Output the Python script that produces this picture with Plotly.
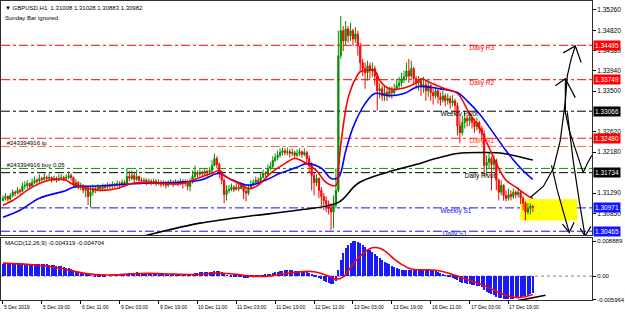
import plotly.graph_objects as go

FONT = "Liberation Sans, Arial, sans-serif"

# ---------------- price data (H1 bars, index 0 = 5 Dec 2019 03:00) ----------------
first_open = 1.3113
close = [
1.3118,1.3122,1.3116,1.3124,1.3131,1.3129,1.3135,1.3133,1.3144,1.3146,
1.3150,1.3144,1.3152,1.3157,1.3155,1.3161,1.3159,1.3163,1.3161,1.3163,
1.3159,1.3161,1.3157,1.3161,1.3163,1.3161,1.3163,1.3167,1.3163,1.3148,
1.3152,1.3144,1.3146,1.3135,1.3139,1.3122,1.3131,1.3139,1.3137,1.3142,
1.3139,1.3144,1.3142,1.3146,1.3144,1.3148,1.3146,1.3150,1.3148,1.3152,
1.3150,1.3165,1.3161,1.3167,1.3159,1.3165,1.3157,1.3155,1.3157,1.3152,
1.3155,1.3152,1.3155,1.3150,1.3152,1.3148,1.3150,1.3146,1.3150,1.3152,
1.3148,1.3152,1.3150,1.3155,1.3150,1.3152,1.3144,1.3152,1.3165,1.3174,
1.3170,1.3174,1.3172,1.3176,1.3174,1.3178,1.3189,1.3204,1.3191,1.3174,
1.3157,1.3126,1.3135,1.3137,1.3142,1.3137,1.3142,1.3139,1.3146,1.3133,
1.3129,1.3139,1.3148,1.3152,1.3157,1.3155,1.3163,1.3172,1.3170,1.3183,
1.3187,1.3200,1.3206,1.3211,1.3217,1.3221,1.3217,1.3219,1.3215,1.3217,
1.3211,1.3215,1.3219,1.3213,1.3217,1.3204,1.3189,1.3167,1.3152,1.3161,
1.3135,1.3122,1.3113,1.3105,1.3096,1.3088,1.3103,1.3135,1.3427,1.3481,
1.3459,1.3485,1.3470,1.3481,1.3463,1.3474,1.3448,1.3412,1.3399,1.3390,
1.3405,1.3394,1.3399,1.3383,1.3351,1.3355,1.3340,1.3347,1.3340,1.3351,
1.3347,1.3355,1.3362,1.3368,1.3377,1.3381,1.3394,1.3383,1.3399,1.3377,
1.3368,1.3373,1.3360,1.3364,1.3351,1.3362,1.3347,1.3340,1.3351,1.3338,
1.3331,1.3340,1.3329,1.3334,1.3325,1.3329,1.3319,1.3275,1.3260,1.3282,
1.3291,1.3286,1.3293,1.3282,1.3273,1.3282,1.3269,1.3258,1.3189,1.3196,
1.3204,1.3191,1.3200,1.3157,1.3131,1.3146,1.3124,1.3118,1.3126,1.3122,
1.3131,1.3126,1.3131,1.3118,1.3107,1.3088,1.3096,1.31008,1.30982]
high = [
1.3124,1.3129,1.3124,1.3129,1.3137,1.3135,1.3142,1.3139,1.3152,1.3155,
1.3157,1.3152,1.3161,1.3165,1.3161,1.3170,1.3165,1.3172,1.3167,1.3172,
1.3165,1.3167,1.3165,1.3170,1.3170,1.3167,1.3170,1.3176,1.3172,1.3165,
1.3159,1.3155,1.3152,1.3148,1.3146,1.3144,1.3146,1.3148,1.3146,1.3148,
1.3146,1.3150,1.3148,1.3152,1.3150,1.3155,1.3152,1.3157,1.3155,1.3159,
1.3157,1.3183,1.3178,1.3178,1.3174,1.3180,1.3167,1.3163,1.3163,1.3161,
1.3161,1.3159,1.3161,1.3159,1.3159,1.3157,1.3157,1.3155,1.3157,1.3159,
1.3157,1.3159,1.3157,1.3161,1.3159,1.3159,1.3157,1.3161,1.3178,1.3189,
1.3178,1.3180,1.3178,1.3183,1.3180,1.3185,1.3200,1.3215,1.3209,1.3196,
1.3178,1.3161,1.3146,1.3146,1.3150,1.3146,1.3150,1.3148,1.3152,1.3148,
1.3144,1.3148,1.3157,1.3159,1.3165,1.3163,1.3172,1.3180,1.3176,1.3191,
1.3196,1.3209,1.3215,1.3221,1.3226,1.3228,1.3226,1.3228,1.3224,1.3226,
1.3221,1.3224,1.3226,1.3221,1.3226,1.3221,1.3211,1.3196,1.3174,1.3170,
1.3163,1.3142,1.3129,1.3122,1.3113,1.3107,1.3124,1.3183,1.3481,1.3513,
1.3491,1.3502,1.3491,1.3498,1.3485,1.3489,1.3481,1.3455,1.3420,1.3412,
1.3416,1.3412,1.3412,1.3405,1.3390,1.3368,1.3362,1.3360,1.3355,1.3360,
1.3360,1.3366,1.3377,1.3381,1.3390,1.3394,1.3412,1.3420,1.3416,1.3403,
1.3383,1.3383,1.3377,1.3381,1.3373,1.3373,1.3366,1.3355,1.3360,1.3355,
1.3347,1.3351,1.3345,1.3345,1.3340,1.3342,1.3334,1.3325,1.3291,1.3297,
1.3304,1.3299,1.3301,1.3297,1.3291,1.3293,1.3286,1.3275,1.3265,1.3211,
1.3217,1.3209,1.3211,1.3204,1.3161,1.3157,1.3148,1.3135,1.3139,1.3135,
1.3139,1.3135,1.3142,1.3135,1.3122,1.3111,1.3107,1.3107,1.31028]
low = [
1.3111,1.3113,1.3111,1.3113,1.3120,1.3122,1.3126,1.3126,1.3131,1.3137,
1.3139,1.3137,1.3142,1.3148,1.3146,1.3150,1.3152,1.3155,1.3155,1.3155,
1.3152,1.3155,1.3152,1.3155,1.3157,1.3155,1.3157,1.3159,1.3157,1.3142,
1.3142,1.3137,1.3135,1.3129,1.3120,1.3103,1.3098,1.3124,1.3129,1.3133,
1.3133,1.3135,1.3135,1.3137,1.3137,1.3139,1.3139,1.3142,1.3139,1.3144,
1.3144,1.3148,1.3155,1.3157,1.3152,1.3155,1.3148,1.3148,1.3150,1.3146,
1.3148,1.3146,1.3148,1.3144,1.3146,1.3142,1.3144,1.3139,1.3142,1.3146,
1.3142,1.3146,1.3144,1.3146,1.3139,1.3144,1.3135,1.3133,1.3150,1.3161,
1.3163,1.3165,1.3165,1.3167,1.3165,1.3170,1.3174,1.3187,1.3183,1.3161,
1.3148,1.3107,1.3113,1.3129,1.3133,1.3131,1.3135,1.3133,1.3137,1.3116,
1.3111,1.3124,1.3137,1.3144,1.3150,1.3148,1.3152,1.3161,1.3163,1.3167,
1.3178,1.3183,1.3196,1.3200,1.3206,1.3211,1.3211,1.3211,1.3206,1.3209,
1.3204,1.3206,1.3209,1.3206,1.3209,1.3193,1.3174,1.3135,1.3124,1.3144,
1.3118,1.3101,1.3092,1.3088,1.3083,1.3049,1.3053,1.3096,1.3131,1.3420,
1.3437,1.3448,1.3455,1.3459,1.3448,1.3455,1.3427,1.3394,1.3383,1.3355,
1.3373,1.3377,1.3381,1.3362,1.3308,1.3334,1.3329,1.3329,1.3329,1.3336,
1.3334,1.3340,1.3351,1.3355,1.3360,1.3368,1.3373,1.3368,1.3377,1.3364,
1.3355,1.3351,1.3340,1.3347,1.3329,1.3338,1.3329,1.3321,1.3334,1.3323,
1.3319,1.3325,1.3317,1.3321,1.3312,1.3317,1.3304,1.3254,1.3237,1.3254,
1.3269,1.3273,1.3275,1.3269,1.3260,1.3265,1.3258,1.3243,1.3163,1.3167,
1.3183,1.3135,1.3178,1.3135,1.3113,1.3124,1.3113,1.3111,1.3113,1.3113,
1.3116,1.3118,1.3120,1.3105,1.3092,1.3070,1.3083,1.3083,1.30883]

bars = list(range(len(close)))
opens = [first_open] + close[:-1]
hi = [max(h, o, c) for h, o, c in zip(high, opens, close)]
lo = [min(l, o, c) for l, o, c in zip(low, opens, close)]

# ---------------- moving averages (sampled points) ----------------
red_ma_bar = [0,4,12,19,26,28,33,40,47,53,60,74,80,86,89,91,97,101,105,110,116,120,125,129,133,137,
              138,139,140,141,142,143,144,145,146,147,150,153,155,159,165,170,172,176,181,187,192,196,
              200,203,207,211,217,218]
red_ma_val = [1.3103,1.3113,1.3142,1.3157,1.3157,1.3150,1.3142,1.3135,1.3139,1.3150,1.3152,1.3150,1.3161,
              1.3172,1.3178,1.3167,1.3150,1.3139,1.3146,1.3172,1.3193,1.3204,1.3193,1.3178,1.3152,1.3146,
              1.3185,1.3235,1.3275,1.3310,1.3335,1.3352,1.3366,1.3376,1.3386,1.3392,1.3396,1.3394,1.3373,
              1.3355,1.3357,1.3368,1.3377,1.3368,1.3357,1.3345,1.3301,1.3271,1.3228,1.3193,1.3157,1.3142,
              1.3120,1.3118]
blue_ma_bar = [0,7,15,26,29,37,56,81,89,93,101,108,114,121,125,131,135,138,141,144,149,153,159,165,171,180,
               187,191,196,202,207,212,217,218]
blue_ma_val = [1.3077,1.3092,1.3118,1.3135,1.3142,1.3144,1.3150,1.3157,1.3172,1.3161,1.3146,1.3157,1.3172,
               1.3185,1.3193,1.3183,1.3161,1.3163,1.3220,1.3271,1.3323,1.3345,1.3340,1.3345,1.3360,1.3355,
               1.3347,1.3329,1.3301,1.3258,1.3221,1.3189,1.3163,1.3159]
black_ma_bar = [56,68,81,101,121,138,146,158,170,178,187,198,206,217,218]
black_ma_val = [1.3033,1.3049,1.3064,1.3079,1.3092,1.3109,1.3150,1.3174,1.3191,1.3204,1.3215,1.3217,1.3215,
                1.3202,1.3201]

# ---------------- MACD(12,26,9) ----------------
macd_main = [
0.0031,0.0031,0.0030,0.0031,0.0031,0.0030,0.0031,0.0030,0.0031,0.0031,0.0031,0.0030,0.0031,0.0031,0.0030,
0.0030,0.0030,0.0029,0.0029,0.0028,0.0028,
0.0027,0.0026,0.0025,0.0024,0.0022,0.0021,0.0019,0.0017,0.0015,0.0013,0.0011,0.0009,0.0007,0.0005,0.0003,
0.0001,0.0000,-0.0001,
-0.0002,-0.0003,-0.0002,-0.0001,0.0000,0.0001,0.0001,0.0002,0.0002,0.0003,0.0003,0.0004,
0.0006,0.0007,0.0008,0.0008,0.0009,0.0008,0.0008,0.0007,0.0007,0.0006,0.0006,0.0005,0.0005,0.0004,
0.0004,0.0003,0.0003,0.0003,0.0003,0.0002,0.0003,0.0003,0.0003,0.0003,0.0002,0.0002,0.0003,0.0005,0.0007,0.0008,
0.0009,0.0009,0.0010,0.0010,0.0010,0.0011,0.0013,0.0013,0.0012,0.0009,0.0005,0.0002,0.0000,-0.0002,-0.0003,
-0.0004,-0.0004,-0.0004,-0.0005,-0.0006,-0.0005,-0.0004,-0.0003,-0.0002,-0.0001,0.0001,0.0002,0.0003,0.0005,0.0006,
0.0008,0.0009,0.0011,0.0012,0.0013,0.0014,0.0014,0.0014,0.0014,0.0013,0.0013,0.0013,0.0012,0.0012,0.0010,0.0007,
0.0003,-0.0001,-0.0003,-0.0006,-0.0009,-0.0012,-0.0015,-0.0018,-0.0021,-0.0020,-0.0012,
0.0015,0.0040,0.0058,0.0070,0.0078,0.0084,0.0088,0.0089,0.0087,0.0083,0.0078,0.0073,0.0069,0.0065,0.0060,
0.0055,0.0050,0.0045,0.0040,0.0036,0.0032,0.0029,0.0026,
0.0023,0.0020,0.0018,0.0016,0.0015,0.0014,0.0014,0.0015,0.0016,0.0017,0.0018,0.0018,0.0018,0.0018,0.0017,
0.0016,0.0014,0.0012,0.0010,0.0008,0.0005,0.0002,
-0.0001,-0.0003,-0.0005,-0.0007,-0.0011,-0.0015,-0.0017,-0.0019,-0.0020,-0.0021,-0.0022,-0.0023,-0.0025,
-0.0027,-0.0029,-0.0035,-0.0040,-0.0044,-0.0047,-0.0050,-0.0053,-0.0056,-0.0057,-0.0059,-0.0060,-0.0060,
-0.0059,-0.0058,-0.0056,-0.0055,-0.0053,-0.0052,-0.0051,-0.0049,-0.0046,-0.004319]
signal_bar = [0,12,20,26,31,36,40,46,53,60,70,80,88,95,102,108,115,122,128,134,137,140,143,146,149,152,155,158,
              161,164,167,170,174,178,182,186,190,195,200,204,208,212,215,218]
signal_val = [0.0033,0.0029,0.0024,0.0017,0.0010,0.0005,0.0003,0.0003,0.0006,0.0007,0.0005,0.0004,0.0008,0.0005,
              0.0000,-0.0001,0.0005,0.0011,0.0011,0.0000,-0.0008,-0.0002,0.0022,0.0045,0.0062,0.0072,0.0071,
              0.0060,0.0043,0.0030,0.0020,0.0016,0.0016,0.0015,0.0010,0.0002,-0.0007,-0.0017,-0.0030,-0.0042,
              -0.0051,-0.0055,-0.0052,-0.004704]

# ---------------- horizontal levels ----------------
level_price = [1.34495, 1.33749, 1.33066, 1.32480, 1.32300, 1.31826, 1.31734, 1.30971, 1.30465]
level_color = ["#ff0000", "#ff0000", "#000000", "#ff1a1a", "#ff6a33", "#009a00", "#000000", "#1414ff", "#1414ff"]
tag_price = [1.34495, 1.33749, 1.33066, 1.32480, 1.31734, 1.30971, 1.30465]
tag_color = ["#ff0000", "#ff0000", "#000000", "#ff0000", "#000000", "#1414ff", "#1414ff"]

label_text = ["Daily R3", "Daily R2", "Weekly Pivot", "Daily R1", "Daily Pivot", "Weekly S1", "Daily S1"]
label_bar = [192, 192, 180, 192, 190, 180, 181]
label_price = [1.34495, 1.33749, 1.33066, 1.32480, 1.31734, 1.30971, 1.30465]
label_color = ["#ff0000", "#ff0000", "#000000", "#ff3c1e", "#000000", "#1414ff", "#1414ff"]

order_text = ["#243394916 tp", "#243394916 buy 0.05"]
order_price = [1.32300, 1.31826]

price_ticks = [1.35260, 1.34820, 1.34380, 1.33940, 1.33500, 1.32620, 1.32180, 1.31290, 1.30850]
macd_ticks = [0.008889, 0.0, -0.005964]
macd_ticktext = ["0.008889", "0.00", "-0.005964"]

time_tick_bar = [0, 16, 32, 48, 64, 80, 96, 112, 128, 144, 160, 176, 192, 208]
time_tick_text = ["5 Dec 2019", "5 Dec 19:00", "6 Dec 11:00", "9 Dec 03:00", "9 Dec 19:00", "10 Dec 11:00",
                  "11 Dec 03:00", "11 Dec 19:00", "12 Dec 11:00", "13 Dec 03:00", "13 Dec 19:00",
                  "16 Dec 11:00", "17 Dec 03:00", "17 Dec 19:00"]

# zone and hand-drawn arrows (bar, price)
zone_bar = [213, 236.3]
zone_price = [1.3070, 1.3116]
arrow_bar = [217.1, 222.4, 226.5, 229.3, 231.4, 232.2, 233.8, 235.5, None,
             230.5, 235.5, 237.9, None,
             227.3, 231.4, 235.5, None,
             231.4, 231.4, 233.0, 235.8, 238.7, 240.7, 242.3, None,
             225.7, 228.1, 230.6, 233.0, None,
             230.2, 233.0, 235.0, None,
             232.2, 234.6, 237.1, 239.5, None,
             237.5, 239.5, 241.9]
arrow_price = [1.3120, 1.3144, 1.3183, 1.3243, 1.3329, 1.3383, 1.3420, 1.3448, None,
               1.3433, 1.3448, 1.3412, None,
               1.3362, 1.3377, 1.3336, None,
               1.3377, 1.3304, 1.3265, 1.3221, 1.3174, 1.3196, 1.3211, None,
               1.3189, 1.3135, 1.3088, 1.3044, None,
               1.3062, 1.3044, 1.3066, None,
               1.3304, 1.3200, 1.3113, 1.3036, None,
               1.3053, 1.3036, 1.3057]
div_bar = [208.9, 223.2]
div_val = [-0.0066, -0.0049]

# ---------------- figure ----------------
W, H = 625, 314
ML, MR, MT, MB = 0, 28, 0, 13
PH = H - MT - MB
PX_PER_BAR = 2.455
x0 = -2 / PX_PER_BAR
x1 = x0 + (W - ML - MR) / PX_PER_BAR

fig = go.Figure()

fig.add_trace(go.Candlestick(
    x=bars, open=opens, high=hi, low=lo, close=close,
    increasing=dict(line=dict(color="#009000", width=1), fillcolor="#009000"),
    decreasing=dict(line=dict(color="#ff0000", width=1), fillcolor="#ff0000"),
    whiskerwidth=0, xaxis="x", yaxis="y", hoverinfo="skip"))

fig.add_trace(go.Scatter(x=black_ma_bar, y=black_ma_val, mode="lines", line=dict(color="#000000", width=1.6, shape="spline"),
                         xaxis="x", yaxis="y"))
fig.add_trace(go.Scatter(x=blue_ma_bar, y=blue_ma_val, mode="lines", line=dict(color="#0000ff", width=1.6, shape="spline"),
                         xaxis="x", yaxis="y"))
fig.add_trace(go.Scatter(x=red_ma_bar, y=red_ma_val, mode="lines", line=dict(color="#ff0000", width=1.6, shape="spline"),
                         xaxis="x", yaxis="y"))

fig.add_trace(go.Scatter(x=arrow_bar, y=arrow_price, mode="lines", line=dict(color="#000000", width=1.2),
                         connectgaps=False, xaxis="x", yaxis="y", cliponaxis=True))

fig.add_trace(go.Scatter(x=label_bar, y=label_price, mode="text", text=label_text,
                         textposition="bottom right", textfont=dict(family=FONT, size=6.5, color=label_color),
                         xaxis="x", yaxis="y", cliponaxis=True))
fig.add_trace(go.Scatter(x=[1.5, 1.5], y=order_price, mode="text", text=order_text,
                         textposition="top right", textfont=dict(family=FONT, size=6, color="#000000"),
                         xaxis="x", yaxis="y", cliponaxis=True))

# MACD panel
fig.add_trace(go.Bar(x=bars, y=macd_main, width=0.42, marker=dict(color="#1a1aff", line=dict(width=0)),
                     xaxis="x2", yaxis="y2"))
fig.add_trace(go.Scatter(x=signal_bar, y=signal_val, mode="lines", line=dict(color="#ff0000", width=1.6, shape="spline"),
                         xaxis="x2", yaxis="y2"))
fig.add_trace(go.Scatter(x=div_bar, y=div_val, mode="lines", line=dict(color="#000000", width=1.6),
                         xaxis="x2", yaxis="y2", cliponaxis=False))

shapes = []
shapes.append(dict(type="rect", xref="x", yref="y", x0=zone_bar[0], x1=zone_bar[1], y0=zone_price[0], y1=zone_price[1],
                   fillcolor="#ffff00", line=dict(width=0), layer="below"))
for p, c in zip(level_price, level_color):
    shapes.append(dict(type="line", xref="paper", yref="y", x0=0, x1=1, y0=p, y1=p,
                       line=dict(color=c, width=1, dash="dashdot"), layer="below"))
shapes.append(dict(type="line", xref="paper", yref="y2", x0=0, x1=1, y0=0, y1=0,
                   line=dict(color="#808080", width=1, dash="dot"), layer="below"))

main_dom = [(PH - 235) / PH, 1.0]
macd_dom = [(PH - 300) / PH, (PH - 238) / PH]
PRICE_PER_PX = 0.000216
ytop = 1.354544
ybot = ytop - 235 * PRICE_PER_PX
MACD_PER_PX = 0.000254
m_top = (276 - 238) * MACD_PER_PX
m_bot = (276 - 300) * MACD_PER_PX

annotations = []
for p, c in zip(tag_price, tag_color):
    annotations.append(dict(xref="paper", yref="y", x=1.0, y=p, xanchor="left", yanchor="middle", xshift=1,
                            text=f"{p:.5f}", showarrow=False, bgcolor=c, borderpad=1,
                            font=dict(family=FONT, size=6.5, color="#ffffff")))
for b, t in zip(time_tick_bar, time_tick_text):
    annotations.append(dict(xref="x2", yref="paper", x=b, y=0, xanchor="left", yanchor="top", xshift=-1, yshift=-1,
                            text=t, showarrow=False, font=dict(family=FONT, size=5, color="#000000")))
annotations.append(dict(xref="paper", yref="paper", x=0.004, y=(PH - 7) / PH, xanchor="left", yanchor="middle",
                        text="▼ GBPUSD,H1  1.31008 1.31028 1.30883 1.30982", showarrow=False,
                        font=dict(family=FONT, size=6, color="#000000")))
annotations.append(dict(xref="paper", yref="paper", x=0.004, y=(PH - 17) / PH, xanchor="left", yanchor="middle",
                        text="Sunday Bar ignored", showarrow=False, font=dict(family=FONT, size=6, color="#000000")))
annotations.append(dict(xref="paper", yref="paper", x=0.004, y=(PH - 243) / PH, xanchor="left", yanchor="middle",
                        text="MACD(12,26,9) -0.004319 -0.004704", showarrow=False,
                        font=dict(family=FONT, size=6, color="#000000")))

axis_common = dict(showgrid=False, zeroline=False, showline=True, linecolor="#303030", linewidth=1, mirror=True)
fig.update_layout(
    width=W, height=H, margin=dict(l=ML, r=MR, t=MT, b=MB, pad=0),
    paper_bgcolor="#ffffff", plot_bgcolor="#ffffff",
    showlegend=False, hovermode=False, bargap=0,
    shapes=shapes, annotations=annotations,
    xaxis=dict(domain=[0, 1], range=[x0, x1], anchor="y", showticklabels=False, ticks="",
               rangeslider=dict(visible=False), **axis_common),
    xaxis2=dict(domain=[0, 1], range=[x0, x1], anchor="y2", matches="x", tickmode="array",
                tickvals=time_tick_bar, ticktext=[""] * len(time_tick_bar), ticks="outside", ticklen=3,
                tickcolor="#000000", **axis_common),
    yaxis=dict(domain=main_dom, range=[ybot, ytop], side="right", anchor="x", tickmode="array",
               tickvals=price_ticks, ticktext=[f"{v:.5f}" for v in price_ticks], ticks="outside", ticklen=3,
               tickcolor="#000000", tickfont=dict(family=FONT, size=6.5, color="#000000"), **axis_common),
    yaxis2=dict(domain=macd_dom, range=[m_bot, m_top], side="right", anchor="x2", tickmode="array",
                tickvals=macd_ticks, ticktext=macd_ticktext, ticks="outside", ticklen=3,
                tickcolor="#000000", tickfont=dict(family=FONT, size=6, color="#000000"), **axis_common),
)

fig.write_html("out.html")
